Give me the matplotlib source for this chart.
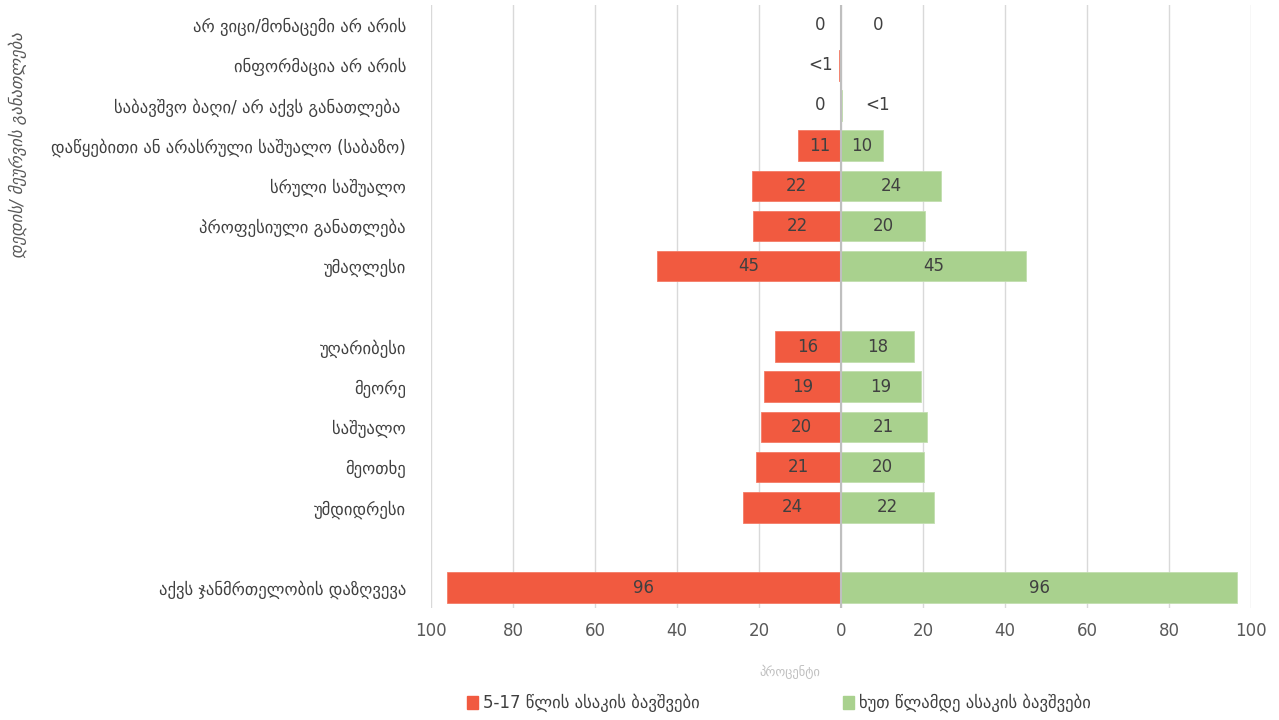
import numpy as np
import matplotlib.pyplot as plt
from matplotlib.patches import Patch

plt.rcParams['font.family'] = ['DejaVu Sans']

# categories (top to bottom), None = empty slot
categories = ['არ ვიცი/მონაცემი არ არის', 'ინფორმაცია არ არის',
              'საბავშვო ბაღი/ არ აქვს განათლება ',
              'დაწყებითი ან არასრული საშუალო (საბაზო)', 'სრული საშუალო',
              'პროფესიული განათლება', 'უმაღლესი', None,
              'უღარიბესი', 'მეორე', 'საშუალო', 'მეოთხე', 'უმდიდრესი', None,
              'აქვს ჯანმრთელობის დაზღვევა']

older = [0, 0.4, 0, 10.4, 21.7, 21.4, 44.8, None,
         16.0, 18.7, 19.5, 20.8, 23.8, None, 96.2]
younger = [0, 0, 0.3, 10.2, 24.5, 20.6, 45.2, None,
           17.9, 19.6, 20.9, 20.2, 22.6, None, 96.7]
older_lbl = ['0', '<1', '0', '11', '22', '22', '45', None,
             '16', '19', '20', '21', '24', None, '96']
younger_lbl = ['0', '', '<1', '10', '24', '20', '45', None,
               '18', '19', '21', '20', '22', None, '96']

ticks = [-100, -80, -60, -40, -20, 0, 20, 40, 60, 80, 100]

red = '#f15a40'
green = '#a9d18e'
txt = '#404040'

fig = plt.figure(figsize=(12.79, 7.2), dpi=100)
ax = fig.add_axes([0.337, 0.156, 0.641, 0.837])

for i in range(len(categories)):
    if categories[i] is None:
        continue
    ax.barh(i, -older[i], height=0.76, color=red, edgecolor='#f47c66', linewidth=0.6, zorder=3)
    ax.barh(i, younger[i], height=0.76, color=green, edgecolor='#c2deaf', linewidth=0.6, zorder=3)
    # labels
    if older[i] >= 1:
        ax.text(-older[i] / 2, i, older_lbl[i], ha='center', va='center', fontsize=12, color=txt, zorder=4)
    else:
        ax.text(-5, i, older_lbl[i], ha='center', va='center', fontsize=12, color=txt, zorder=4)
    if younger[i] >= 1:
        ax.text(younger[i] / 2, i, younger_lbl[i], ha='center', va='center', fontsize=12, color=txt, zorder=4)
    else:
        ax.text(9, i, younger_lbl[i], ha='center', va='center', fontsize=12, color=txt, zorder=4)

ax.set_xlim(-100, 100)
ax.set_ylim(14.5, -0.5)
ax.set_xticks(ticks)
ax.set_xticklabels([str(abs(t)) for t in ticks], fontsize=12, color='#595959')
pos = [i for i in range(len(categories)) if categories[i] is not None]
ax.set_yticks(pos)
ax.set_yticklabels([categories[i] for i in pos], fontsize=12, color='#404040')
ax.tick_params(length=0)
ax.tick_params(axis='y', pad=18)
ax.tick_params(axis='x', pad=10)
for s in ax.spines.values():
    s.set_visible(False)
ax.grid(axis='x', color='#d9d9d9', linewidth=1, zorder=0)
ax.axvline(0, color='#bfbfbf', linewidth=1.5, zorder=5)

fig.text(0.014, 1 - 145 / 720, 'დედის/ მეურვის განათლება', rotation=90, ha='center', va='center',
         fontsize=12, color='#595959', style='italic')
fig.text(790 / 1279, 1 - 672 / 720, 'პროცენტი', ha='center', va='center', fontsize=9, color='#bfbfbf')

handles = [Patch(color=red, label='5-17 წლის ასაკის ბავშვები'),
           Patch(color=green, label='ხუთ წლამდე ასაკის ბავშვები')]
fig.legend(handles=handles, loc='center left', bbox_to_anchor=(452 / 1279, 1 - 703 / 720), ncol=2,
           frameon=False, fontsize=12, handlelength=0.65, handleheight=0.85, handletextpad=0.3,
           columnspacing=8.6, labelcolor='#404040')

fig.savefig('out.png', dpi=100)
